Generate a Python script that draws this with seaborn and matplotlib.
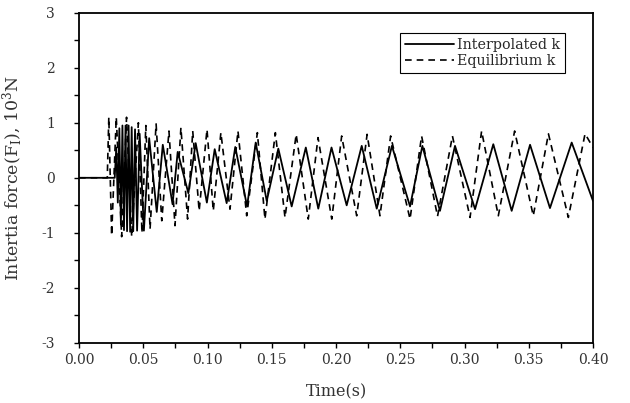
import matplotlib
matplotlib.use("Agg")
import matplotlib.pyplot as plt
import seaborn as sns
from matplotlib.ticker import MultipleLocator, FormatStrFormatter


# Inertia force at the peaks and troughs (time in s, force in 10^3 N)
interp_t = [0.0, 0.0278, 0.0290, 0.0302, 0.0314, 0.0326, 0.0338, 0.0350, 0.0362,
            0.0374, 0.0386, 0.0398, 0.0410, 0.0422, 0.0436, 0.0452, 0.0472, 0.0505,
            0.0546, 0.0605, 0.0652, 0.0728, 0.0768, 0.0851, 0.0908, 0.0995, 0.1056,
            0.1149, 0.1216, 0.1308, 0.1375, 0.1461, 0.1551, 0.1655, 0.1765, 0.1862,
            0.1965, 0.2083, 0.2200, 0.2317, 0.2435, 0.2576, 0.2672, 0.2809, 0.2926,
            0.3082, 0.3224, 0.3367, 0.3510, 0.3665, 0.3834, 0.4000]
interp_f = [0.0, 0.0, 0.55, -0.45, 0.90, -0.85, 0.95, -0.95, 0.95,
            -0.97, 0.95, -0.98, 0.92, -0.97, 0.88, -0.96, 0.80, -0.96,
            0.72, -0.62, 0.60, -0.48, 0.47, -0.28, 0.63, -0.45, 0.52,
            -0.46, 0.56, -0.52, 0.64, -0.42, 0.53, -0.52, 0.55, -0.56,
            0.55, -0.50, 0.58, -0.56, 0.58, -0.52, 0.58, -0.60, 0.58,
            -0.57, 0.61, -0.60, 0.60, -0.55, 0.64, -0.42]

equil_t = [0.0, 0.0220, 0.0232, 0.0254, 0.0290, 0.0332, 0.0370, 0.0410, 0.0462,
           0.0490, 0.0520, 0.0553, 0.0600, 0.0644, 0.0700, 0.0747, 0.0793, 0.0845,
           0.0885, 0.0935, 0.0996, 0.1045, 0.1104, 0.1175, 0.1237, 0.1305, 0.1388,
           0.1447, 0.1528, 0.1603, 0.1690, 0.1784, 0.1860, 0.1967, 0.2044, 0.2161,
           0.2242, 0.2342, 0.2425, 0.2576, 0.2666, 0.2790, 0.2906, 0.3043, 0.3133,
           0.3263, 0.3390, 0.3535, 0.3653, 0.3808, 0.3938, 0.4000]
equil_f = [0.0, 0.0, 1.10, -1.05, 1.10, -1.07, 1.10, -1.07, 1.00,
           -1.00, 0.95, -0.93, 0.98, -0.78, 0.85, -0.87, 0.91, -0.75,
           0.85, -0.60, 0.88, -0.60, 0.82, -0.57, 0.85, -0.69, 0.82,
           -0.75, 0.82, -0.72, 0.79, -0.75, 0.73, -0.75, 0.76, -0.69,
           0.79, -0.69, 0.76, -0.75, 0.76, -0.70, 0.76, -0.72, 0.85,
           -0.69, 0.85, -0.69, 0.80, -0.72, 0.80, 0.55]

x_ticks = [0.00, 0.05, 0.10, 0.15, 0.20, 0.25, 0.30, 0.35, 0.40]
y_ticks = [-3, -2, -1, 0, 1, 2, 3]


sns.set_style("ticks")
plt.rcParams["font.family"] = ["DejaVu Serif"]
plt.rcParams["axes.unicode_minus"] = False
plt.rcParams["mathtext.fontset"] = "dejavuserif"

fig = plt.figure(figsize=(6.3, 4.03), dpi=100)
ax = fig.add_axes([0.1254, 0.149, 0.8159, 0.8196])

sns.lineplot(x=interp_t, y=interp_f, ax=ax, color="black", linewidth=1.3,
             sort=False, estimator=None, label="Interpolated k")
sns.lineplot(x=equil_t, y=equil_f, ax=ax, color="black", linewidth=1.2,
             linestyle=(0, (4, 3)), sort=False, estimator=None,
             label="Equilibrium k")

ax.set_xlim(0, 0.40)
ax.set_ylim(-3, 3)
ax.set_xticks(x_ticks)
ax.set_yticks(y_ticks)
ax.xaxis.set_major_formatter(FormatStrFormatter("%.2f"))
ax.xaxis.set_minor_locator(MultipleLocator(0.025))
ax.yaxis.set_minor_locator(MultipleLocator(0.5))
ax.tick_params(axis="both", which="both", direction="out", length=3.5,
               width=1.0, labelsize=10, color="black", labelcolor="#333333")
ax.tick_params(axis="y", pad=14)
ax.tick_params(axis="x", pad=4)

for side in ["left", "right", "top", "bottom"]:
    ax.spines[side].set_visible(True)
    ax.spines[side].set_linewidth(1.3)
    ax.spines[side].set_color("black")

ax.set_xlabel("Time(s)", fontsize=11.5, color="#333333", va="center")
ax.set_ylabel("Intertia force(F$_\\mathrm{I}$), 10$^{3}$N", fontsize=12.5,
              color="#333333", va="center")
ax.xaxis.set_label_coords(0.5, -0.148)
ax.yaxis.set_label_coords(-0.128, 0.5)

leg = ax.legend(loc="upper right", bbox_to_anchor=(0.9455, 0.9385), borderaxespad=0,
                fontsize=10.3, frameon=True, fancybox=False, framealpha=1,
                edgecolor="black", handlelength=3.4, handletextpad=0.2,
                borderpad=0.35, labelspacing=0.15)
leg.get_frame().set_linewidth(0.8)

fig.savefig("out.png", dpi=100)
